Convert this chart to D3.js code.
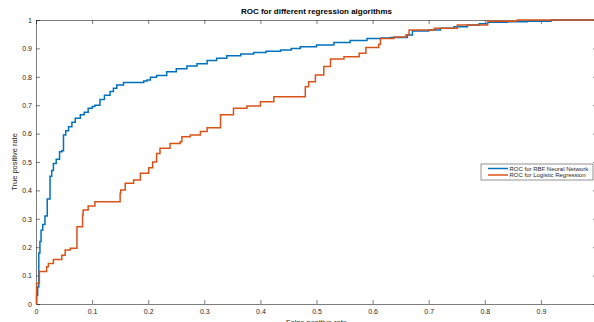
<!DOCTYPE html>
<html>
<head>
<meta charset="utf-8">
<script src="https://cdn.jsdelivr.net/npm/d3@7"></script>
<style>
  body { margin: 0; background: #fff; }
  svg { display: block; font-family: "Liberation Sans", Arial, sans-serif; }
</style>
</head>
<body>
<div class="container"></div>
<script>
// ROC curve for RBF neural network (false positive rate, true positive rate)
const rbfFpr = [0, 0.001, 0.003, 0.005, 0.007, 0.009, 0.012, 0.016, 0.02, 0.025, 0.028, 0.031, 0.036, 0.042, 0.046,
  0.049, 0.053, 0.058, 0.064, 0.07, 0.079, 0.086, 0.093, 0.1, 0.105, 0.114, 0.122, 0.132, 0.138, 0.144, 0.156,
  0.175, 0.192, 0.198, 0.204, 0.215, 0.233, 0.25, 0.269, 0.287, 0.305, 0.322, 0.34, 0.365, 0.388, 0.41, 0.436,
  0.455, 0.471, 0.5, 0.531, 0.56, 0.59, 0.615, 0.632, 0.662, 0.671, 0.7, 0.721, 0.745, 0.769, 0.79, 0.805,
  0.84, 0.876, 0.918, 1];
const rbfTpr = [0, 0.03, 0.06, 0.18, 0.22, 0.26, 0.28, 0.31, 0.37, 0.45, 0.47, 0.495, 0.51, 0.536, 0.54,
  0.595, 0.61, 0.624, 0.64, 0.654, 0.666, 0.675, 0.689, 0.695, 0.7, 0.72, 0.735, 0.748, 0.76, 0.771, 0.78,
  0.78, 0.785, 0.789, 0.798, 0.805, 0.818, 0.828, 0.838, 0.846, 0.857, 0.865, 0.874, 0.88, 0.886, 0.89, 0.894,
  0.9, 0.906, 0.912, 0.921, 0.928, 0.935, 0.937, 0.938, 0.947, 0.961, 0.965, 0.971, 0.976, 0.982, 0.987, 0.992,
  0.994, 0.996, 1, 1];

// ROC curve for logistic regression
const lrFpr = [0, 0.001, 0.006, 0.019, 0.022, 0.031, 0.037, 0.046, 0.052, 0.061, 0.073, 0.074, 0.083, 0.084,
  0.093, 0.105, 0.117, 0.15, 0.151, 0.159, 0.174, 0.186, 0.201, 0.208, 0.215, 0.221, 0.239, 0.257, 0.26, 0.275,
  0.293, 0.305, 0.323, 0.329, 0.352, 0.376, 0.4, 0.424, 0.479, 0.48, 0.486, 0.498, 0.513, 0.525, 0.549, 0.576,
  0.588, 0.611, 0.614, 0.638, 0.659, 0.665, 0.71, 0.751, 0.805, 0.858, 1];
const lrTpr = [0, 0.073, 0.114, 0.131, 0.143, 0.157, 0.157, 0.172, 0.19, 0.196, 0.272, 0.272, 0.313, 0.331,
  0.345, 0.36, 0.36, 0.39, 0.401, 0.425, 0.437, 0.46, 0.48, 0.5, 0.53, 0.548, 0.565, 0.571, 0.589, 0.595,
  0.607, 0.621, 0.621, 0.666, 0.689, 0.697, 0.712, 0.73, 0.73, 0.765, 0.783, 0.806, 0.836, 0.863, 0.871, 0.883,
  0.903, 0.915, 0.935, 0.94, 0.947, 0.965, 0.971, 0.982, 0.996, 1, 1];

const seriesNames = ['ROC for RBF Neural Network', 'ROC for Logistic Regression'];
const seriesColors = ['#0072BD', '#D95319'];
const ticks = [0, 0.1, 0.2, 0.3, 0.4, 0.5, 0.6, 0.7, 0.8, 0.9, 1];

const width = 594, height = 322;
const plotLeft = 36, plotRight = 597, plotTop = 20, plotBottom = 304;

const x = d3.scaleLinear().domain([0, 1]).range([plotLeft, plotRight]);
const y = d3.scaleLinear().domain([0, 1]).range([plotBottom, plotTop]);

const svg = d3.select('.container')
    .append('svg')
    .attr('width', width)
    .attr('height', height);

const axisColor = '#262626';

// axes with inward ticks, like matlab
const xAxis = svg.append('g')
    .attr('transform', `translate(0,${plotBottom})`)
    .call(d3.axisBottom(x).tickValues(ticks.slice(0, 10)).tickSize(-4).tickPadding(5)
        .tickFormat(d => d === 0 ? '0' : d3.format('.1f')(d)));
const xAxisTop = svg.append('g')
    .attr('transform', `translate(0,${plotTop})`)
    .call(d3.axisTop(x).tickValues(ticks).tickSize(-4).tickFormat(''));
const yAxis = svg.append('g')
    .attr('transform', `translate(${plotLeft},0)`)
    .call(d3.axisLeft(y).tickValues(ticks).tickSize(-4).tickPadding(4)
        .tickFormat(d => d === 0 ? '0' : d === 1 ? '1' : d3.format('.1f')(d)));
const yAxisRight = svg.append('g')
    .attr('transform', `translate(${plotRight},0)`)
    .call(d3.axisRight(y).tickValues(ticks).tickSize(-4).tickFormat(''));

[xAxis, xAxisTop, yAxis, yAxisRight].forEach(g => {
    g.select('.domain').attr('stroke', axisColor).attr('stroke-width', 0.6);
    g.selectAll('.tick line').attr('stroke', axisColor).attr('stroke-width', 0.6);
    g.selectAll('.tick text').attr('fill', axisColor).attr('font-size', 7)
        .attr('font-family', '"Liberation Sans", Arial, sans-serif');
});

const line = d3.line()
    .x(d => x(d[0]))
    .y(d => y(d[1]))
    .curve(d3.curveStepAfter);

const series = [
    d3.zip(rbfFpr, rbfTpr),
    d3.zip(lrFpr, lrTpr)
];

svg.append('g')
    .selectAll('path')
    .data(series)
    .join('path')
    .attr('fill', 'none')
    .attr('stroke', (d, i) => seriesColors[i])
    .attr('stroke-width', 1.5)
    .attr('d', line);

// title and labels
svg.append('text')
    .attr('x', (plotLeft + plotRight) / 2)
    .attr('y', 14)
    .attr('text-anchor', 'middle')
    .attr('font-size', 8)
    .attr('font-weight', 'bold')
    .attr('fill', '#000')
    .text('ROC for different regression algorithms');

svg.append('text')
    .attr('transform', `translate(17,${(plotTop + plotBottom) / 2}) rotate(-90)`)
    .attr('text-anchor', 'middle')
    .attr('font-size', 7.5)
    .attr('fill', axisColor)
    .text('True positive rate');

svg.append('text')
    .attr('x', (plotLeft + plotRight) / 2)
    .attr('y', 325)
    .attr('text-anchor', 'middle')
    .attr('font-size', 7.5)
    .attr('fill', axisColor)
    .text('False positive rate');

// legend
const legend = svg.append('g').attr('transform', 'translate(481,164)');
legend.append('rect')
    .attr('width', 112).attr('height', 16)
    .attr('fill', '#fff')
    .attr('stroke', axisColor).attr('stroke-width', 0.5);
const items = legend.selectAll('g.item')
    .data(seriesNames)
    .join('g')
    .attr('class', 'item')
    .attr('transform', (d, i) => `translate(0,${4.5 + i * 6.5})`);
items.append('line')
    .attr('x1', 7).attr('x2', 27)
    .attr('stroke', (d, i) => seriesColors[i])
    .attr('stroke-width', 1.5);
items.append('text')
    .attr('x', 28.5).attr('y', 2)
    .attr('font-size', 6)
    .attr('fill', axisColor)
    .text(d => d);
</script>
</body>
</html>
